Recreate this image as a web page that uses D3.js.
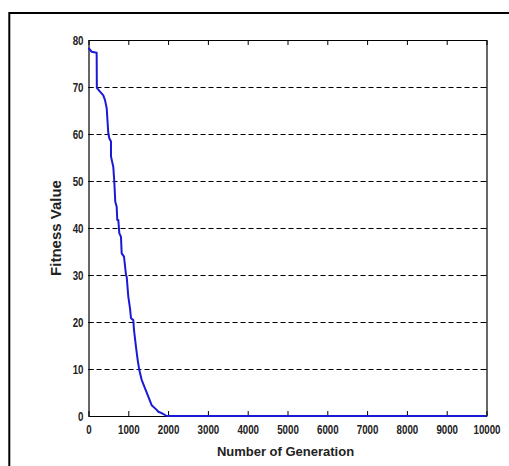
<!DOCTYPE html>
<html>
<head>
<meta charset="utf-8">
<script src="https://cdn.jsdelivr.net/npm/d3@7"></script>
<style>
  html, body { margin: 0; padding: 0; background: #fff; }
  svg { display: block; }
</style>
</head>
<body>
<svg id="chart" width="509" height="466"></svg>
<script>
// Data
const generations = [0, 80, 205, 210, 289, 372, 415, 440, 457, 498, 523, 565, 565, 623, 648, 673, 708, 723, 749, 774, 816, 834, 892, 942, 960, 1000, 1043, 1068, 1126, 1143, 1193, 1236, 1276, 1336, 1420, 1503, 1587, 1713, 1754, 1839, 1965, 10000];
const fitness     = [78.3, 77.5, 77.3, 69.8, 69.0, 68.2, 67.2, 66.2, 65.5, 60.1, 59.1, 58.4, 55.2, 53.0, 49.9, 45.6, 44.5, 41.7, 41.7, 38.9, 38.1, 34.6, 33.9, 30.0, 29.6, 25.4, 22.9, 20.8, 20.4, 18.3, 14.7, 11.9, 9.8, 7.7, 5.9, 4.1, 2.3, 1.3, 0.9, 0.6, 0, 0];
const xTicks = [0, 1000, 2000, 3000, 4000, 5000, 6000, 7000, 8000, 9000, 10000];
const yTicks = [0, 10, 20, 30, 40, 50, 60, 70, 80];
const xLabel = "Number of Generation";
const yLabel = "Fitness Value";

(function () {
const svg = d3.select("#chart");
const mLeft = 88.5, mRight = 486.5, mTop = 40, mBottom = 416;
const sx = 0.78; // horizontal condensing of tick labels

const x = d3.scaleLinear().domain([0, 10000]).range([mLeft, mRight]);
const y = d3.scaleLinear().domain([0, 80]).range([mBottom, mTop]);

// outer frame
svg.append("rect").attr("x", 9.3).attr("y", 13).attr("width", 520).attr("height", 480)
  .attr("fill", "none").attr("stroke", "#000").attr("stroke-width", 2);

// dashed horizontal grid
svg.append("g").selectAll("line").data(yTicks.filter(d => d > 0 && d < 80)).join("line")
  .attr("x1", mLeft).attr("x2", mRight)
  .attr("y1", d => Math.round(y(d)) + 0.5).attr("y2", d => Math.round(y(d)) + 0.5)
  .attr("stroke", "#000").attr("stroke-width", 1).attr("stroke-dasharray", "5,3");

const tickFont = "'Liberation Sans', Arial, sans-serif";

const xAxisB = d3.axisBottom(x).tickValues(xTicks).tickSizeInner(-5).tickSizeOuter(0).tickPadding(10).tickFormat(d3.format("d"));
const xAxisT = d3.axisTop(x).tickValues(xTicks).tickSizeInner(-5).tickSizeOuter(0).tickFormat("");
const yAxisL = d3.axisLeft(y).tickValues(yTicks).tickSizeInner(-5).tickSizeOuter(0).tickPadding(10).tickFormat(d3.format("d"));
const yAxisR = d3.axisRight(y).tickValues(yTicks).tickSizeInner(-5).tickSizeOuter(0).tickFormat("");

function styleAxis(g) {
  g.select(".domain").attr("stroke", "#000").attr("stroke-width", 1.2);
  g.selectAll(".tick line").attr("stroke", "#000");
  g.selectAll("text").attr("font-family", tickFont).attr("font-size", 12.5).attr("font-weight", "bold").attr("fill", "#222");
}

const gxb = svg.append("g").attr("transform", `translate(0,${mBottom})`).call(xAxisB).call(styleAxis);
gxb.selectAll(".tick text").attr("transform", `scale(${sx},1)`).attr("dy", "0.7em").attr("y", 9);
svg.append("g").attr("transform", `translate(0,${mTop})`).call(xAxisT).call(styleAxis);
const gyl = svg.append("g").attr("transform", `translate(${mLeft},0)`).call(yAxisL).call(styleAxis);
gyl.selectAll(".tick text").attr("x", -5 / sx).attr("transform", `scale(${sx},1)`);
svg.append("g").attr("transform", `translate(${mRight},0)`).call(yAxisR).call(styleAxis);

const line = d3.line().x((d, i) => x(generations[i])).y(d => y(d));
svg.append("path").datum(fitness).attr("d", line)
  .attr("fill", "none").attr("stroke", "#1a1ad6").attr("stroke-width", 2).attr("stroke-linejoin", "round");

svg.append("text").attr("x", (mLeft + mRight) / 2 - 2).attr("y", 456)
  .attr("text-anchor", "middle").attr("font-family", "'Liberation Sans', Arial, sans-serif")
  .attr("font-size", 13).attr("font-weight", "bold").attr("fill", "#222").text(xLabel);

svg.append("text").attr("transform", `translate(61,${(mTop + mBottom) / 2}) rotate(-90)`)
  .attr("text-anchor", "middle").attr("font-family", "'Liberation Sans', Arial, sans-serif")
  .attr("font-size", 15).attr("font-weight", "bold").attr("fill", "#222").text(yLabel);
})();
</script>
</body>
</html>
